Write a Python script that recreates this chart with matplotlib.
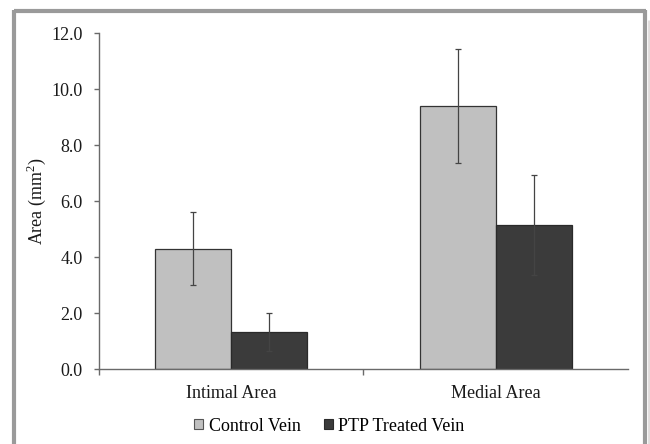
import matplotlib
matplotlib.use("Agg")
import matplotlib.pyplot as plt
import numpy as np
from matplotlib.lines import Line2D
from matplotlib.patches import Patch

plt.rcParams['font.family'] = ['Liberation Serif', 'DejaVu Serif']
plt.rcParams['mathtext.fontset'] = 'custom'
plt.rcParams['mathtext.rm'] = 'Liberation Serif'

categories = ["Intimal Area", "Medial Area"]
series_names = ["Control Vein", "PTP Treated Vein"]
control_vals = [4.3, 9.4]
control_err = [1.3, 2.03]
ptp_vals = [1.32, 5.15]
ptp_err = [0.68, 1.78]
yticks = [0.0, 2.0, 4.0, 6.0, 8.0, 10.0, 12.0]

W, H = 650, 444
fig = plt.figure(figsize=(W / 100, H / 100), dpi=100)
ax = fig.add_axes([98.7 / W, 1 - 369.3 / H, (628 - 98.7) / W, (369.3 - 33.3) / H])

x = np.arange(len(categories))
bw = 0.2875
col_c = '#c0c0c0'
col_p = '#3b3b3b'
edge = '#333333'
ax.bar(x - bw / 2, control_vals, bw, color=col_c, edgecolor=edge, linewidth=0.9, zorder=2)
ax.bar(x + bw / 2, ptp_vals, bw, color=col_p, edgecolor='#2a2a2a', linewidth=0.9, zorder=2)
ax.errorbar(x - bw / 2, control_vals, yerr=control_err, fmt='none', ecolor='#444444',
            elinewidth=0.9, capsize=2.5, capthick=0.9, zorder=3)
ax.errorbar(x + bw / 2, ptp_vals, yerr=ptp_err, fmt='none', ecolor='#444444',
            elinewidth=0.9, capsize=2.5, capthick=0.9, zorder=3)

ax.set_xlim(-0.5, len(categories) - 0.5)
ax.set_ylim(0, 12)
ax.set_yticks(yticks)
ax.set_yticklabels([f"{v:.1f}" for v in yticks])
ax.set_xticks(x)
ax.set_xticklabels(categories)
ax.set_xticks([-0.5, 0.5], minor=True)

axcol = '#6a6a6a'
for s in ['top', 'right']:
    ax.spines[s].set_visible(False)
for s in ['left', 'bottom']:
    ax.spines[s].set_color(axcol)
    ax.spines[s].set_linewidth(1.0)

ax.tick_params(axis='y', direction='out', length=3.5, width=1.0, color=axcol,
               labelsize=13, pad=8, labelcolor='#1a1a1a')
ax.tick_params(axis='x', which='major', length=0, labelsize=13, pad=11, labelcolor='#1a1a1a')
ax.tick_params(axis='x', which='minor', direction='out', length=4, width=1.0, color=axcol)

ax.set_ylabel('Area (mm$^{2}$)', fontsize=13, color='#1a1a1a')
ax.yaxis.set_label_coords(-0.095, 0.5)

handles = [Patch(facecolor=col_c, edgecolor='#555555', linewidth=0.8),
           Patch(facecolor=col_p, edgecolor='#2a2a2a', linewidth=0.8)]
fig.legend(handles, series_names, loc='center', bbox_to_anchor=(329.5 / W, 1 - 426 / H),
           ncol=2, frameon=False, fontsize=13, handlelength=0.5, handleheight=0.5,
           handletextpad=0.3, columnspacing=1.3, borderpad=0)

# outer gray frame
fc = '#9a9a9a'
def px_line(x0, y0, x1, y1, lw=3, color=fc):
    fig.add_artist(Line2D([x0 / W, x1 / W], [1 - y0 / H, 1 - y1 / H], color=color,
                          linewidth=lw, transform=fig.transFigure, solid_capstyle='butt'))
px_line(14, 11.5, 646, 11.5)
px_line(14, 10, 14, 444)
px_line(645, 10, 645, 444)
px_line(648.5, 20, 648.5, 444, lw=2, color='#e0dcdc')

fig.savefig('out.png', dpi=100)
